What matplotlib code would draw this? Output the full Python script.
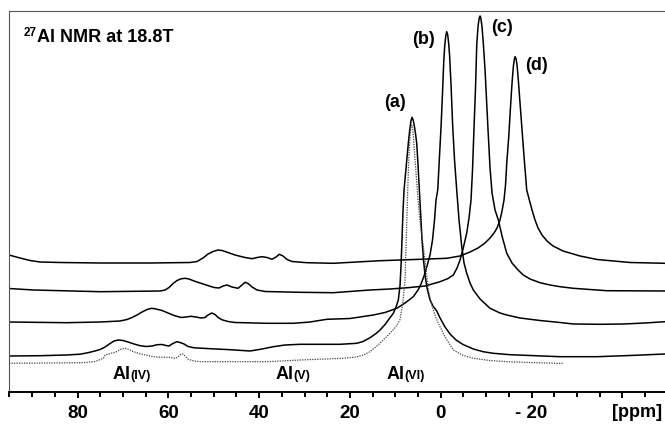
import numpy as np
import matplotlib
matplotlib.use('Agg')
import matplotlib.pyplot as plt
from matplotlib.ticker import FixedLocator, FixedFormatter, MultipleLocator

plt.rcParams['font.family'] = ['Liberation Sans', 'DejaVu Sans']
plt.rcParams['font.weight'] = 'bold'

# spectra: chemical shift (ppm) and stacked intensity
ppm_d = [95.1, 92.66, 90.46, 88.26, 83.85, 75.0, 64.0, 55.22, 53.68, 52.36, 51.26, 50.15,
         49.05, 48.17, 46.85, 45.31, 43.11, 41.56, 40.46, 39.36, 38.26, 37.16, 36.28, 35.55,
         34.74, 33.85, 32.75, 29.52, 23.66, 13.37, 4.56, -1.32, -4.25, -6.45, -8.22, -9.76,
         -10.86, -11.74, -12.40, -13.06, -13.50, -13.94, -14.27, -14.54, -14.98, -15.33,
         -15.70, -15.99, -16.21, -16.37, -16.59, -16.81, -17.09, -17.47, -17.91, -18.35,
         -18.94, -19.52, -20.11, -20.77, -21.43, -22.31, -23.41, -24.74, -26.94, -30.69,
         -34.43, -41.70, -49.41]
int_d = [137, 134, 131.5, 130, 129.5, 129, 129, 129.5, 130.5, 134, 138, 140.5,
         142, 141.5, 139.5, 137, 134.5, 133.3, 134.5, 135.3, 134.5, 132.7, 135, 137.7,
         136, 132.5, 130.5, 129.3, 128.7, 131.3, 132.7, 133.7, 136, 140, 144, 149,
         154, 159, 164, 172, 181, 192, 207, 228.7, 255.3, 282,
         308.7, 325.3, 332.7, 335.3, 333.3, 327, 312, 288.7, 262, 235.3,
         202, 192, 182, 172, 164, 157, 151, 146, 141, 136,
         132.5, 129.5, 128.7]

ppm_c = [95.1, 89.7, 75.0, 61.8, 60.73, 59.85, 58.96, 58.08, 57.20, 56.32, 55.44, 54.34,
         53.02, 51.48, 49.93, 48.83, 47.95, 47.07, 45.97, 44.65, 43.77, 43.11, 42.44, 41.56,
         40.46, 38.70, 30.99, 23.66, 15.57, 11.17, 6.76, 3.46, 0.15, -1.61, -2.78, -3.59,
         -4.25, -4.91, -5.73, -6.23, -6.67, -7.00, -7.33, -7.67, -7.93, -8.22, -8.48, -8.66,
         -8.83, -9.10, -9.38, -9.76, -10.09, -10.42, -10.86, -11.30, -11.96, -12.69, -13.50,
         -14.54, -15.70, -17.03, -18.19, -19.67, -21.87, -24.07, -26.28, -29.21, -36.56,
         -49.41]
int_c = [103.5, 102, 100.3, 101, 102, 104.5, 108.5, 111.5, 113.2, 113.7, 113, 111,
         109, 106.7, 104.5, 104, 106, 107, 105, 103.7, 107, 109.7, 108.5, 105,
         102, 100.5, 99.7, 99.3, 102, 103, 104.5, 106, 110.3, 113.5, 117, 124,
         132, 143, 159, 174, 192, 222, 264, 305, 347, 366, 374, 376,
         374, 365, 348.7, 322, 292, 262, 224, 199, 182, 172, 156,
         138.7, 129, 122, 117, 113, 109.3, 107, 105.3, 103.7, 101.3,
         101]

ppm_b = [95.1, 82.4, 75.04, 70.64, 69.10, 67.99, 66.89, 65.79, 64.69, 63.66, 62.71, 61.39,
         60.07, 58.74, 57.20, 56.10, 55.00, 53.90, 52.80, 51.92, 51.26, 50.44, 49.71, 49.05,
         48.17, 46.85, 45.31, 38.33, 32.47, 28.79, 25.11, 19.98, 14.85, 12.27, 9.69, 7.86,
         6.04, 5.00, 4.34, 3.68, 3.02, 2.36, 1.81, 1.37, 1.04, 0.66, 0.26, -0.07, -0.40,
         -0.66, -0.86, -1.10, -1.32, -1.54, -1.76, -1.96, -2.27, -2.64, -3.04, -3.52, -4.03,
         -4.63, -5.13, -5.73, -6.45, -7.18, -8.66, -10.86, -13.06, -14.54, -17.47, -21.87,
         -26.28, -29.21, -35.09, -40.22, -45.00, -49.41]
int_b = [70, 69.3, 70, 71, 72.5, 74.5, 77, 80, 82.5, 83.7, 83, 81.5,
         79, 76.5, 74.5, 75, 75.7, 75, 74, 74.5, 77, 79, 77.5, 74.5,
         72.2, 70.5, 69.5, 68.7, 68.7, 70, 72.7, 73.5, 77, 79.5, 83.7, 89,
         95.3, 102, 108, 116, 126, 137, 152, 172, 192, 202, 237, 265.3, 300,
         330, 345, 356, 360.3, 357, 348, 336, 307, 265.3, 232, 202, 172,
         145.3, 129, 118.7, 109, 102, 93, 83.7, 79, 77, 74, 71.5,
         69.5, 68, 67.7, 68, 69, 70.3]

ppm_a = [95.1, 88.26, 82.4, 79.45, 77.69, 76.15, 75.04, 73.94, 72.83, 71.96, 71.01, 69.98,
         68.88, 67.55, 66.23, 64.91, 63.59, 62.49, 61.39, 60.51, 59.85, 59.19, 58.15, 57.42,
         56.54, 55.66, 54.34, 50.81, 46.41, 42.00, 39.36, 36.87, 34.30, 30.99, 26.59, 22.18,
         18.50, 17.11, 15.57, 14.25, 13.37, 12.27, 11.39, 10.44, 9.85, 9.34, 8.96, 8.74,
         8.59, 8.30, 8.08, 7.64, 7.14, 6.83, 6.56, 6.32, 6.08, 5.81, 5.55, 5.29, 5.00, 4.71,
         4.41, 4.12, 3.79, 3.46, 3.02, 2.36, 1.70, 0.88, 0.15, -0.95, -2.05, -3.37, -4.91,
         -7.18, -9.32, -11.59, -15.26, -19.67, -26.28, -34.43, -41.70, -49.41]
int_a = [36, 36.3, 37, 37.8, 39.3, 41, 42.5, 45, 48.5, 51, 52, 51.5,
         50, 48, 46.3, 45.5, 46, 47.3, 47.5, 46.5, 46, 48, 50.3, 49.5,
         48, 45.5, 44.2, 43.3, 42.3, 41, 43, 45.3, 47, 47.7, 47.7, 47.7,
         48.7, 50.5, 54.3, 58.5, 62, 67.5, 73, 78.7, 85, 92, 107, 127,
         145.3, 182, 202, 224, 248.7, 262, 271, 274.7, 272, 266, 258, 248.7, 227, 202,
         177, 152, 132, 117, 104, 92, 86, 81, 74, 65, 58, 52, 47.5,
         43, 40.3, 38.7, 37.3, 36.5, 35.3, 35.3, 36.5, 38]

ppm_dot = [95.1, 86.06, 78.7, 76.15, 74.3, 73.94, 71.4, 70.42, 69.5, 68.66, 67.7, 66.23,
           64.0, 62.71, 61.1, 59.6, 58.52, 57.86, 57.31, 56.8, 56.32, 55.6, 54.34, 53.0,
           38.3, 31.0, 21.5, 18.66, 17.0, 15.6, 13.81, 11.9, 10.51, 9.63, 9.0, 8.41, 8.08,
           7.86, 7.60, 7.27, 7.05, 6.81, 6.59, 6.40, 6.19, 5.97, 5.66, 5.33, 5.00, 4.56,
           4.16, 3.83, 3.35, 2.73, 1.92, 1.04, 0.15, -0.95, -2.78, -4.69, -7.18, -10.86,
           -14.54, -19.67, -27.0]
int_dot = [28.7, 29, 29.3, 30.5, 33.7, 37, 40.3, 42.8, 43.7, 42.5, 40.3, 38.2,
           36, 35, 34.7, 34.7, 33.5, 35, 37.5, 38, 36, 32.7, 31, 30.3,
           30.3, 32, 33.7, 35, 37, 40.3, 47, 55.3, 62, 67, 72, 87, 102,
           112, 152, 202, 232, 252, 264, 267, 264, 252, 232, 212, 192, 170,
           156, 145.3, 127, 102, 86, 74, 65.3, 55, 42, 37, 33.7, 31.5,
           30.3, 29.5, 28.5]

curve_labels = ['(a)', '(b)', '(c)', '(d)']
label_ppm = [10.0, 3.7, -13.6, -21.1]
label_int = [289.5, 352, 365, 326.5]

site_names = ['(IV)', '(V)', '(VI)']
site_ppm = [68.4, 32.5, 7.9]

major_ticks = [80, 60, 40, 20, 0, -20, -40]
major_labels = ['80', '60', '40', '20', '0', '- 20', '']

fig = plt.figure(figsize=(6.65, 4.24), dpi=100)
ax = fig.add_axes([9 / 665, 32 / 424, 656 / 665, 381 / 424])

for x, y in [(ppm_a, int_a), (ppm_b, int_b), (ppm_c, int_c), (ppm_d, int_d)]:
    ax.plot(x, y, color='black', lw=1.1, solid_joinstyle='round')
ax.plot(ppm_dot, int_dot, color='#444444', lw=0.9, ls=(0, (1, 1)))

for lab, x, y in zip(curve_labels, label_ppm, label_int):
    ax.text(x, y, lab, fontsize=13, fontweight='bold', ha='center', va='center')

for name, x in zip(site_names, site_ppm):
    ax.text(x, 13, 'Al', fontsize=13, fontweight='bold', ha='right', va='baseline')
    ax.text(x, 13, name, fontsize=9, fontweight='bold', ha='left', va='baseline')

ax.set_xlim(95.1, -49.4)
ax.set_ylim(0, 381)
ax.xaxis.set_major_locator(FixedLocator(major_ticks))
ax.xaxis.set_major_formatter(FixedFormatter(major_labels))
ax.xaxis.set_minor_locator(MultipleLocator(5))
ax.set_yticks([])
ax.tick_params(axis='x', which='major', length=4.5, width=1.4, pad=5, labelsize=13.5)
ax.tick_params(axis='x', which='minor', length=3.8, width=1.4)
for lbl in ax.get_xticklabels():
    lbl.set_fontweight('bold')

ax.spines['right'].set_visible(False)
ax.spines['bottom'].set_linewidth(1.4)
ax.spines['left'].set_linewidth(0.8)
ax.spines['left'].set_color('#555555')
ax.spines['top'].set_linewidth(0.8)
ax.spines['top'].set_color('#555555')

ax.text(-43.2, -0.053, '[ppm]', transform=ax.get_xaxis_transform(),
        fontsize=13, fontweight='bold', ha='center', va='center')

fig.text(37 / 665, 1 - 41.7 / 424, 'Al NMR at 18.8T', fontsize=13, fontweight='bold',
         ha='left', va='baseline')
fig.text(36.5 / 665, 1 - 36.5 / 424, '27', fontsize=8.5, fontweight='bold',
         ha='right', va='baseline')

fig.savefig('out.png', dpi=100)
